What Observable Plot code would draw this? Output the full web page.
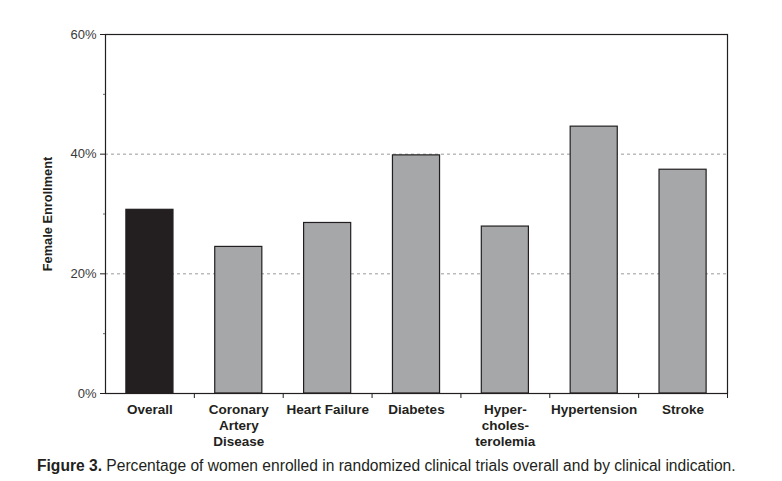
<!DOCTYPE html>
<html>
<head>
<meta charset="utf-8">
<script src="https://cdn.jsdelivr.net/npm/d3@7"></script>
<script src="https://cdn.jsdelivr.net/npm/@observablehq/plot@0.6"></script>
<style>
  body { margin: 0; background: #fff; font-family: "Liberation Sans", Arial, sans-serif; }
  #chart { width: 782px; }
  #chart svg { display: block; }
  #caption { margin: 6px 0 0 37px; line-height: 19px; font-family: "Liberation Sans Narrow", "Liberation Sans", Arial, sans-serif; font-size: 15.6px; color: #231f20; white-space: nowrap; }
</style>
</head>
<body>
<div id="chart"></div>
<div id="caption"><b>Figure 3.</b> Percentage of women enrolled in randomized clinical trials overall and by clinical indication.</div>
<script>
const categories = ["Overall", "Coronary\nArtery\nDisease", "Heart Failure", "Diabetes", "Hyper-\ncholes-\nterolemia", "Hypertension", "Stroke"];
const values = [30.7, 24.5, 28.5, 39.8, 27.9, 44.6, 37.4];
const groups = ["overall", "indication", "indication", "indication", "indication", "indication", "indication"];
const majorTicks = [0, 20, 40, 60];
const minorTicks = [10, 30, 50];
const gridTicks = [20, 40];

const data = categories.map((c, i) => ({category: c, value: values[i], group: groups[i]}));

const width = 782, height = 450;
const marginLeft = 105, marginRight = 55, marginTop = 34, marginBottom = 57;
const step = (width - marginLeft - marginRight) / categories.length;

const chart = Plot.plot({
  width, height, marginLeft, marginRight, marginTop, marginBottom,
  style: {fontFamily: "'Liberation Sans', Arial, sans-serif", background: "#fff", color: "#231f20"},
  x: {domain: categories, paddingInner: 0.47, paddingOuter: 0.235, align: 0.5, round: false, label: null},
  y: {domain: [0, 60], label: null},
  color: {domain: ["overall", "indication"], range: ["#231f20", "#a6a7a9"]},
  marks: [
    Plot.ruleY(gridTicks, {stroke: "#9a9a9a", strokeDasharray: "3,3", strokeWidth: 1}),
    Plot.barY(data, {x: "category", y: "value", fill: "group", stroke: "#231f20", strokeWidth: 1.2}),
    Plot.frame({stroke: "#231f20", strokeWidth: 1.2}),
    Plot.axisY(majorTicks, {tickSize: 5, tickPadding: 4, tickFormat: d => d + "%", fontSize: 13, color: "#3a3a3a", stroke: "#231f20"}),
    Plot.axisY(minorTicks, {tickSize: 2, text: null, stroke: "#666"}),
    Plot.axisX({tickSize: 0, tickPadding: 9, fontSize: 13.5, fontWeight: "bold", lineHeight: 1.2, color: "#231f20"}),
    Plot.axisX({tickSize: 5, text: null, dx: step / 2, stroke: "#231f20"}),
    Plot.text(["Female Enrollment"], {frameAnchor: "left", dx: -58, rotate: -90, textAnchor: "middle", fontSize: 12.8, fontWeight: "bold", fill: "#231f20"})
  ]
});
document.getElementById("chart").appendChild(chart);
</script>
</body>
</html>
